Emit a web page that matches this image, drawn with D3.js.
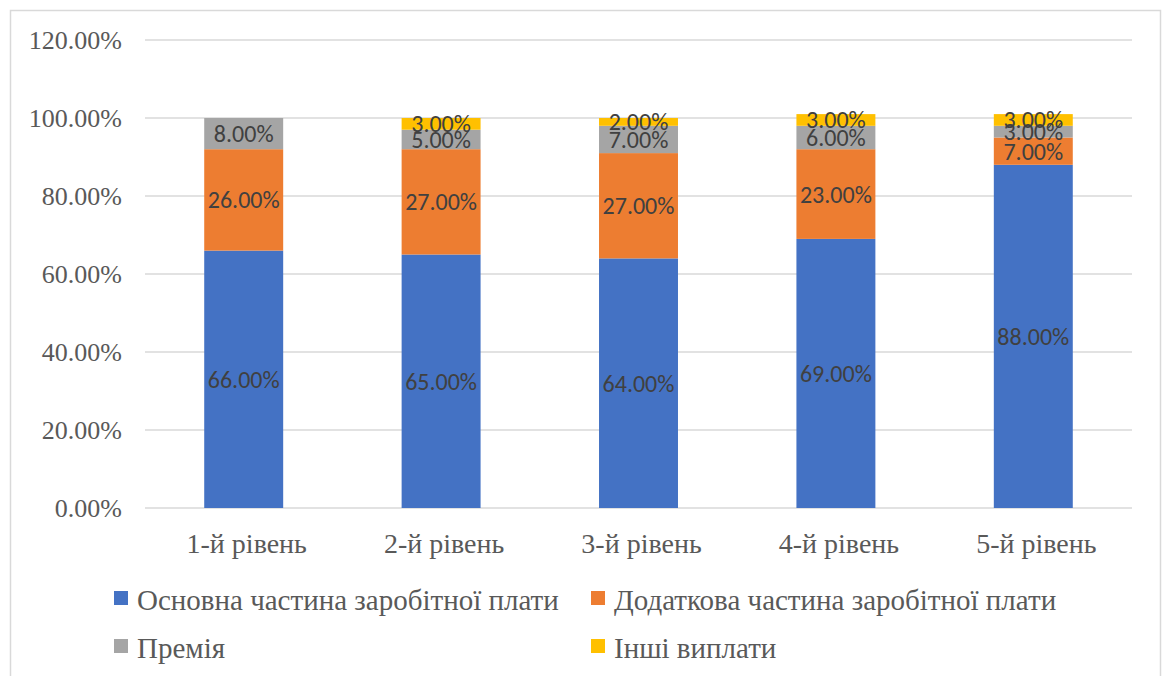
<!DOCTYPE html>
<html><head><meta charset="utf-8">
<script src="https://cdn.jsdelivr.net/npm/d3@7/dist/d3.min.js"></script>
<style>body{margin:0;background:#fff}</style>
</head><body>
<svg id="c" width="1163" height="676"></svg>
<script>
const categories = ["1-й рівень","2-й рівень","3-й рівень","4-й рівень","5-й рівень"];
const seriesNames = ["Основна частина заробітної плати","Додаткова частина заробітної плати","Премія","Інші виплати"];
const basic = [66, 65, 64, 69, 88];
const additional = [26, 27, 27, 23, 7];
const bonus = [8, 5, 7, 6, 3];
const other = [0, 3, 2, 3, 3];
const yTicks = [0, 20, 40, 60, 80, 100, 120];
const colors = ["#4472c4","#ed7d31","#a5a5a5","#ffc000"];
const SERIF = "Liberation Serif";

const svg = d3.select("#c");
svg.append("rect").attr("x",10.5).attr("y",10.5).attr("width",1150).attr("height",700)
  .attr("fill","#fff").attr("stroke","#d9d9d9").attr("stroke-width",1.5);

const x = d3.scaleBand().domain(categories).range([145,1132]).paddingInner(0.6).paddingOuter(0.3);
const y = d3.scaleLinear().domain([0,120]).range([508,40]);

svg.append("g").selectAll("line").data(yTicks).join("line")
  .attr("x1",145).attr("x2",1132).attr("y1",d=>y(d)).attr("y2",d=>y(d))
  .attr("stroke","#d9d9d9").attr("stroke-width",1.5);

const yAxis = d3.axisLeft(y).tickValues(yTicks).tickSize(0).tickPadding(0)
  .tickFormat(d=>d.toFixed(2)+"%");
const ya = svg.append("g").attr("transform","translate(122,0)").call(yAxis);
ya.select(".domain").remove();
ya.selectAll("text").attr("font-family",SERIF).attr("font-size",26).attr("fill","#595959");

const xAxis = d3.axisBottom(x).tickSize(0).tickPadding(0);
const xa = svg.append("g").attr("transform","translate(0,530)").call(xAxis);
xa.select(".domain").remove();
xa.selectAll("text").attr("font-family",SERIF).attr("font-size",28).attr("fill","#595959")
  .attr("y",23).attr("dy",null).attr("dx",3);

const data = categories.map((c,i)=>({cat:c, s0:basic[i], s1:additional[i], s2:bonus[i], s3:other[i]}));
const stack = d3.stack().keys(["s0","s1","s2","s3"])(data);

const g = svg.append("g");
stack.forEach((layer,li)=>{
  const bw = x.bandwidth();
  layer.forEach(d=>{
    const v = d[1]-d[0];
    if (v<=0) return;
    g.append("rect").attr("x",x(d.data.cat)).attr("width",bw)
      .attr("y",y(d[1])).attr("height",y(d[0])-y(d[1])).attr("fill",colors[li]);
  });
});
stack.forEach((layer,li)=>{
  layer.forEach(d=>{
    const v = d[1]-d[0];
    if (v<=0) return;
    g.append("text").attr("x",x(d.data.cat)+x.bandwidth()/2).attr("y",(y(d[0])+y(d[1]))/2)
      .attr("text-anchor","middle").attr("dominant-baseline","central")
      .attr("font-family","Carlito").attr("font-size",24)
      .attr("fill","#404040").text(v.toFixed(2)+"%");
  });
});

const legPos = [[114,598],[591,598],[114,646],[591,646]];
seriesNames.forEach((n,i)=>{
  const [lx,ly] = legPos[i];
  svg.append("rect").attr("x",lx).attr("y",ly-7).attr("width",14).attr("height",14).attr("fill",colors[i]);
  svg.append("text").attr("x",lx+23).attr("y",ly+2).attr("dominant-baseline","central")
    .attr("font-family",SERIF).attr("font-size",29).attr("fill","#595959").text(n);
});
</script>
</body></html>
